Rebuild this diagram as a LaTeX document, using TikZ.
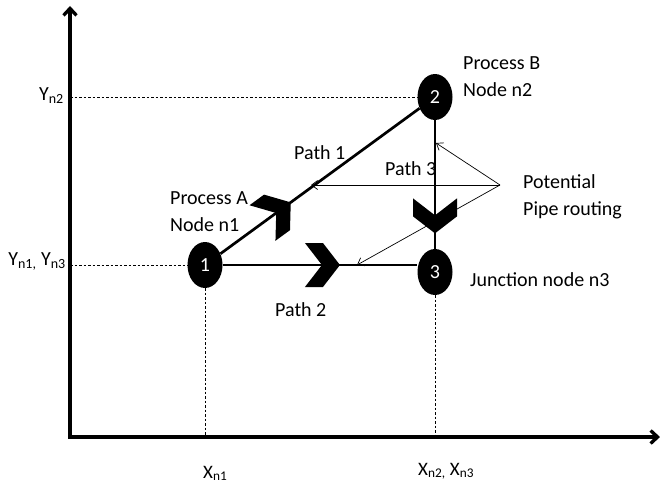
\documentclass[tikz,border=0pt]{standalone}
\usepackage{fontspec}
\setmainfont{Carlito}
\usetikzlibrary{shapes,arrows,arrows.meta,positioning}

\tikzset{
  pnode/.style={ellipse, fill=black, text=white, minimum width=35pt, minimum height=46pt, inner sep=0pt, font=\fontsize{20}{24}\selectfont},
  pipe/.style={line width=2.7pt},
  axis/.style={line width=3.3pt, {Straight Barb[length=7pt,width=13pt]}-{Straight Barb[length=7pt,width=13pt]}},
  guide/.style={dash pattern=on 2.5pt off 2pt, line width=0.6pt},
  hint/.style={line width=0.7pt, -{Straight Barb[length=6pt,width=9pt]}},
  lbl/.style={inner sep=0pt, align=left, font=\fontsize{20}{27}\selectfont},
  chev/.pic={\fill (-17,22) -- (0,0) -- (-17,-22) -- (1,-22) -- (18,0) -- (1,22) -- cycle;}
}

\begin{document}
\begin{tikzpicture}[x=1pt, y=-1pt]
  \useasboundingbox (0,0) rectangle (660,487);
  \coordinate (o) at (70,437);
  \coordinate (ytop) at (70,6);
  \coordinate (xend) at (660,437);
  \draw[axis] (ytop) -- (o) -- (xend);

  \node[pnode] (n1) at (205,265) {1};
  \node[pnode] (n2) at (435,97) {2};
  \node[pnode] (n3) at (435,272) {3};

  \draw[guide] (o |- n2) -- (n2.west);
  \draw[guide] (o |- n1) -- (n1.west);
  \draw[guide] (n1.south) -- (n1 |- o);
  \draw[guide] (n3.south) -- (n3 |- o);

  \draw[pipe] (n1) -- (n2) pic[pos=0.28, sloped]{chev};
  \draw[pipe] (n1.east) -- (n1.east -| n3.west) pic[pos=0.51, sloped]{chev};
  \draw[pipe] (n2) -- (n3) pic[pos=0.74, sloped, allow upside down]{chev};

  \coordinate (pr) at (500,185);
  \coordinate (h1) at (311,185);
  \coordinate (h2) at (357,265);
  \coordinate (h3) at (436,143);
  \draw[hint] (pr) -- (h1);
  \draw[hint] (pr) -- (h2);
  \draw[hint] (pr) -- (h3);

  \node[lbl, anchor=north west] (pa) at (170,191) {Process A\\Node n1};
  \node[lbl, anchor=north west] (pb) at (463,56) {Process B\\Node n2};
  \node[lbl, anchor=north west] (pot) at (523,174) {Potential\\Pipe routing};
  \node[lbl, anchor=base west] (jn) at (470,286) {Junction node n3};
  \node[lbl, anchor=base west] (p1) at (294,159) {Path 1};
  \node[lbl, anchor=base west] (p2) at (275,316) {Path 2};
  \node[lbl, anchor=base west] (p3) at (385,175) {Path 3};
  \node[lbl, anchor=base east] (yn2) at (64,100) {Y\textsubscript{n2}};
  \node[lbl, anchor=base east] (yn1) at (66,265) {Y\textsubscript{n1,} Y\textsubscript{n3}};
  \node[lbl, anchor=base west, font=\fontsize{19}{22}\selectfont] (xn1) at (203,478) {X\textsubscript{n1}};
  \node[lbl, anchor=base west, font=\fontsize{19}{22}\selectfont] (xn2) at (418,475) {X\textsubscript{n2,} X\textsubscript{n3}};
\end{tikzpicture}
\end{document}
